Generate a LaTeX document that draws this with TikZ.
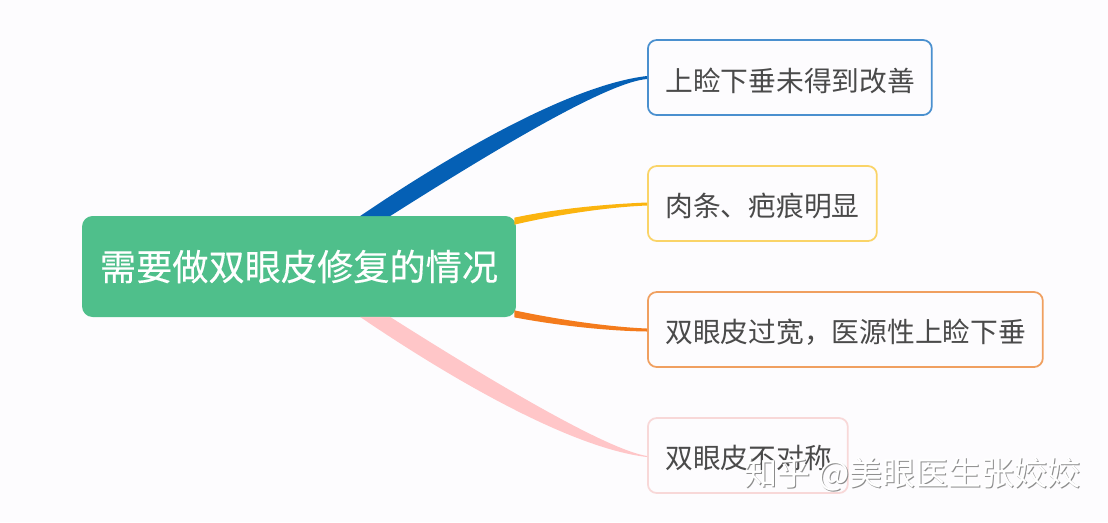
\documentclass[tikz,border=0pt]{standalone}
\usepackage{fontspec}
\setmainfont{Noto Sans CJK SC}
\newfontfamily\rootfont[FakeBold=0.35]{Noto Sans CJK SC}
\usetikzlibrary{calc}

\definecolor{pagebg}{HTML}{FDFCFE}
\definecolor{rootgreen}{HTML}{4FBF8B}
\definecolor{lineblue}{HTML}{0560B5}
\definecolor{lineyellow}{HTML}{FBB40F}
\definecolor{lineorange}{HTML}{F47B1C}
\definecolor{linepink}{HTML}{FFC6C8}
\definecolor{boxblue}{HTML}{4A90CF}
\definecolor{boxyellow}{HTML}{FAD468}
\definecolor{boxorange}{HTML}{F0A060}
\definecolor{boxpink}{HTML}{F8D8D8}
\definecolor{textgrey}{HTML}{4A4A4A}

\tikzset{
	rootbox/.style={fill=rootgreen,text=white,rounded corners=6pt,minimum width=8.68cm,minimum height=2.02cm,inner sep=0pt,font=\rootfont\fontsize{20.6pt}{24pt}\selectfont},
	leafbox/.style={draw=#1,fill=pagebg,line width=1pt,rounded corners=5pt,anchor=west,minimum height=1.5cm,inner sep=0pt},
	leaftext/.style={inner sep=0pt,anchor=west,text=textgrey,font=\fontsize{15.8pt}{19pt}\selectfont},
	markshadow/.style={inner sep=0pt,anchor=west,text=black!45,font=\fontsize{18.8pt}{22pt}\selectfont},
	markfront/.style={inner sep=0pt,anchor=west,text=white,font=\fontsize{18.8pt}{22pt}\selectfont}
}

\begin{document}
\begin{tikzpicture}[x=0.02cm,y=-0.02cm]

\fill[color=pagebg] (0,0) rectangle (1108,522);
\useasboundingbox (0,0) rectangle (1108,522);

\node[rootbox] (root) at (299,266.5) {需要做双眼皮修复的情况};

\node[leafbox=boxblue,minimum width=5.68cm] (droop) at (647,77.5) {};
\node[leafbox=boxyellow,minimum width=4.58cm] (scar) at (647,203.5) {};
\node[leafbox=boxorange,minimum width=7.9cm] (wide) at (647,329.5) {};
\node[leafbox=boxpink,minimum width=4cm] (uneven) at (647,455.5) {};

% tapered branches
\fill[color=lineblue] ($(root.north)+(61,0.5)$) .. controls (450,155) and (570,85) .. ($(droop.west)+(0,-1.5)$)
	-- ($(droop.west)+(0,1.5)$) .. controls (610,82) and (510,140) .. ($(root.north)+(91,0.5)$) -- cycle;
\fill[color=lineyellow] ($(root.north east)+(-2,2)$) .. controls (560,208) and (610,204) .. ($(scar.west)+(0,-1)$)
	-- ($(scar.west)+(0,2)$) .. controls (610,207) and (560,214) .. ($(root.north east)+(-2,9)$) -- cycle;
\fill[color=lineorange] ($(root.south east)+(-2,-7)$) .. controls (560,320) and (610,327) .. ($(wide.west)+(0,-1)$)
	-- ($(wide.west)+(0,2)$) .. controls (610,331) and (560,326) .. ($(root.south east)+(-2,0)$) -- cycle;
\fill[color=linepink] ($(root.south)+(61,-0.5)$) .. controls (450,378) and (570,448) .. ($(uneven.west)+(0,1.5)$)
	-- ($(uneven.west)+(0,0.5)$) .. controls (610,450) and (510,393) .. ($(root.south)+(91,-0.5)$) -- cycle;

\node[leaftext] (droopt) at (665,81) {上睑下垂未得到改善};
\node[leaftext] (scart) at (665,206) {肉条、疤痕明显};
\node[leaftext] (widet) at (665,332) {双眼皮过宽，医源性上睑下垂};
\node[leaftext] (unevent) at (665,458) {双眼皮不对称};

% watermark
\node[markshadow] (markback) at (745.5,475) {知乎 @美眼医生张姣姣};
\node[markfront] (mark) at (744.5,474) {知乎 @美眼医生张姣姣};

\end{tikzpicture}
\end{document}
